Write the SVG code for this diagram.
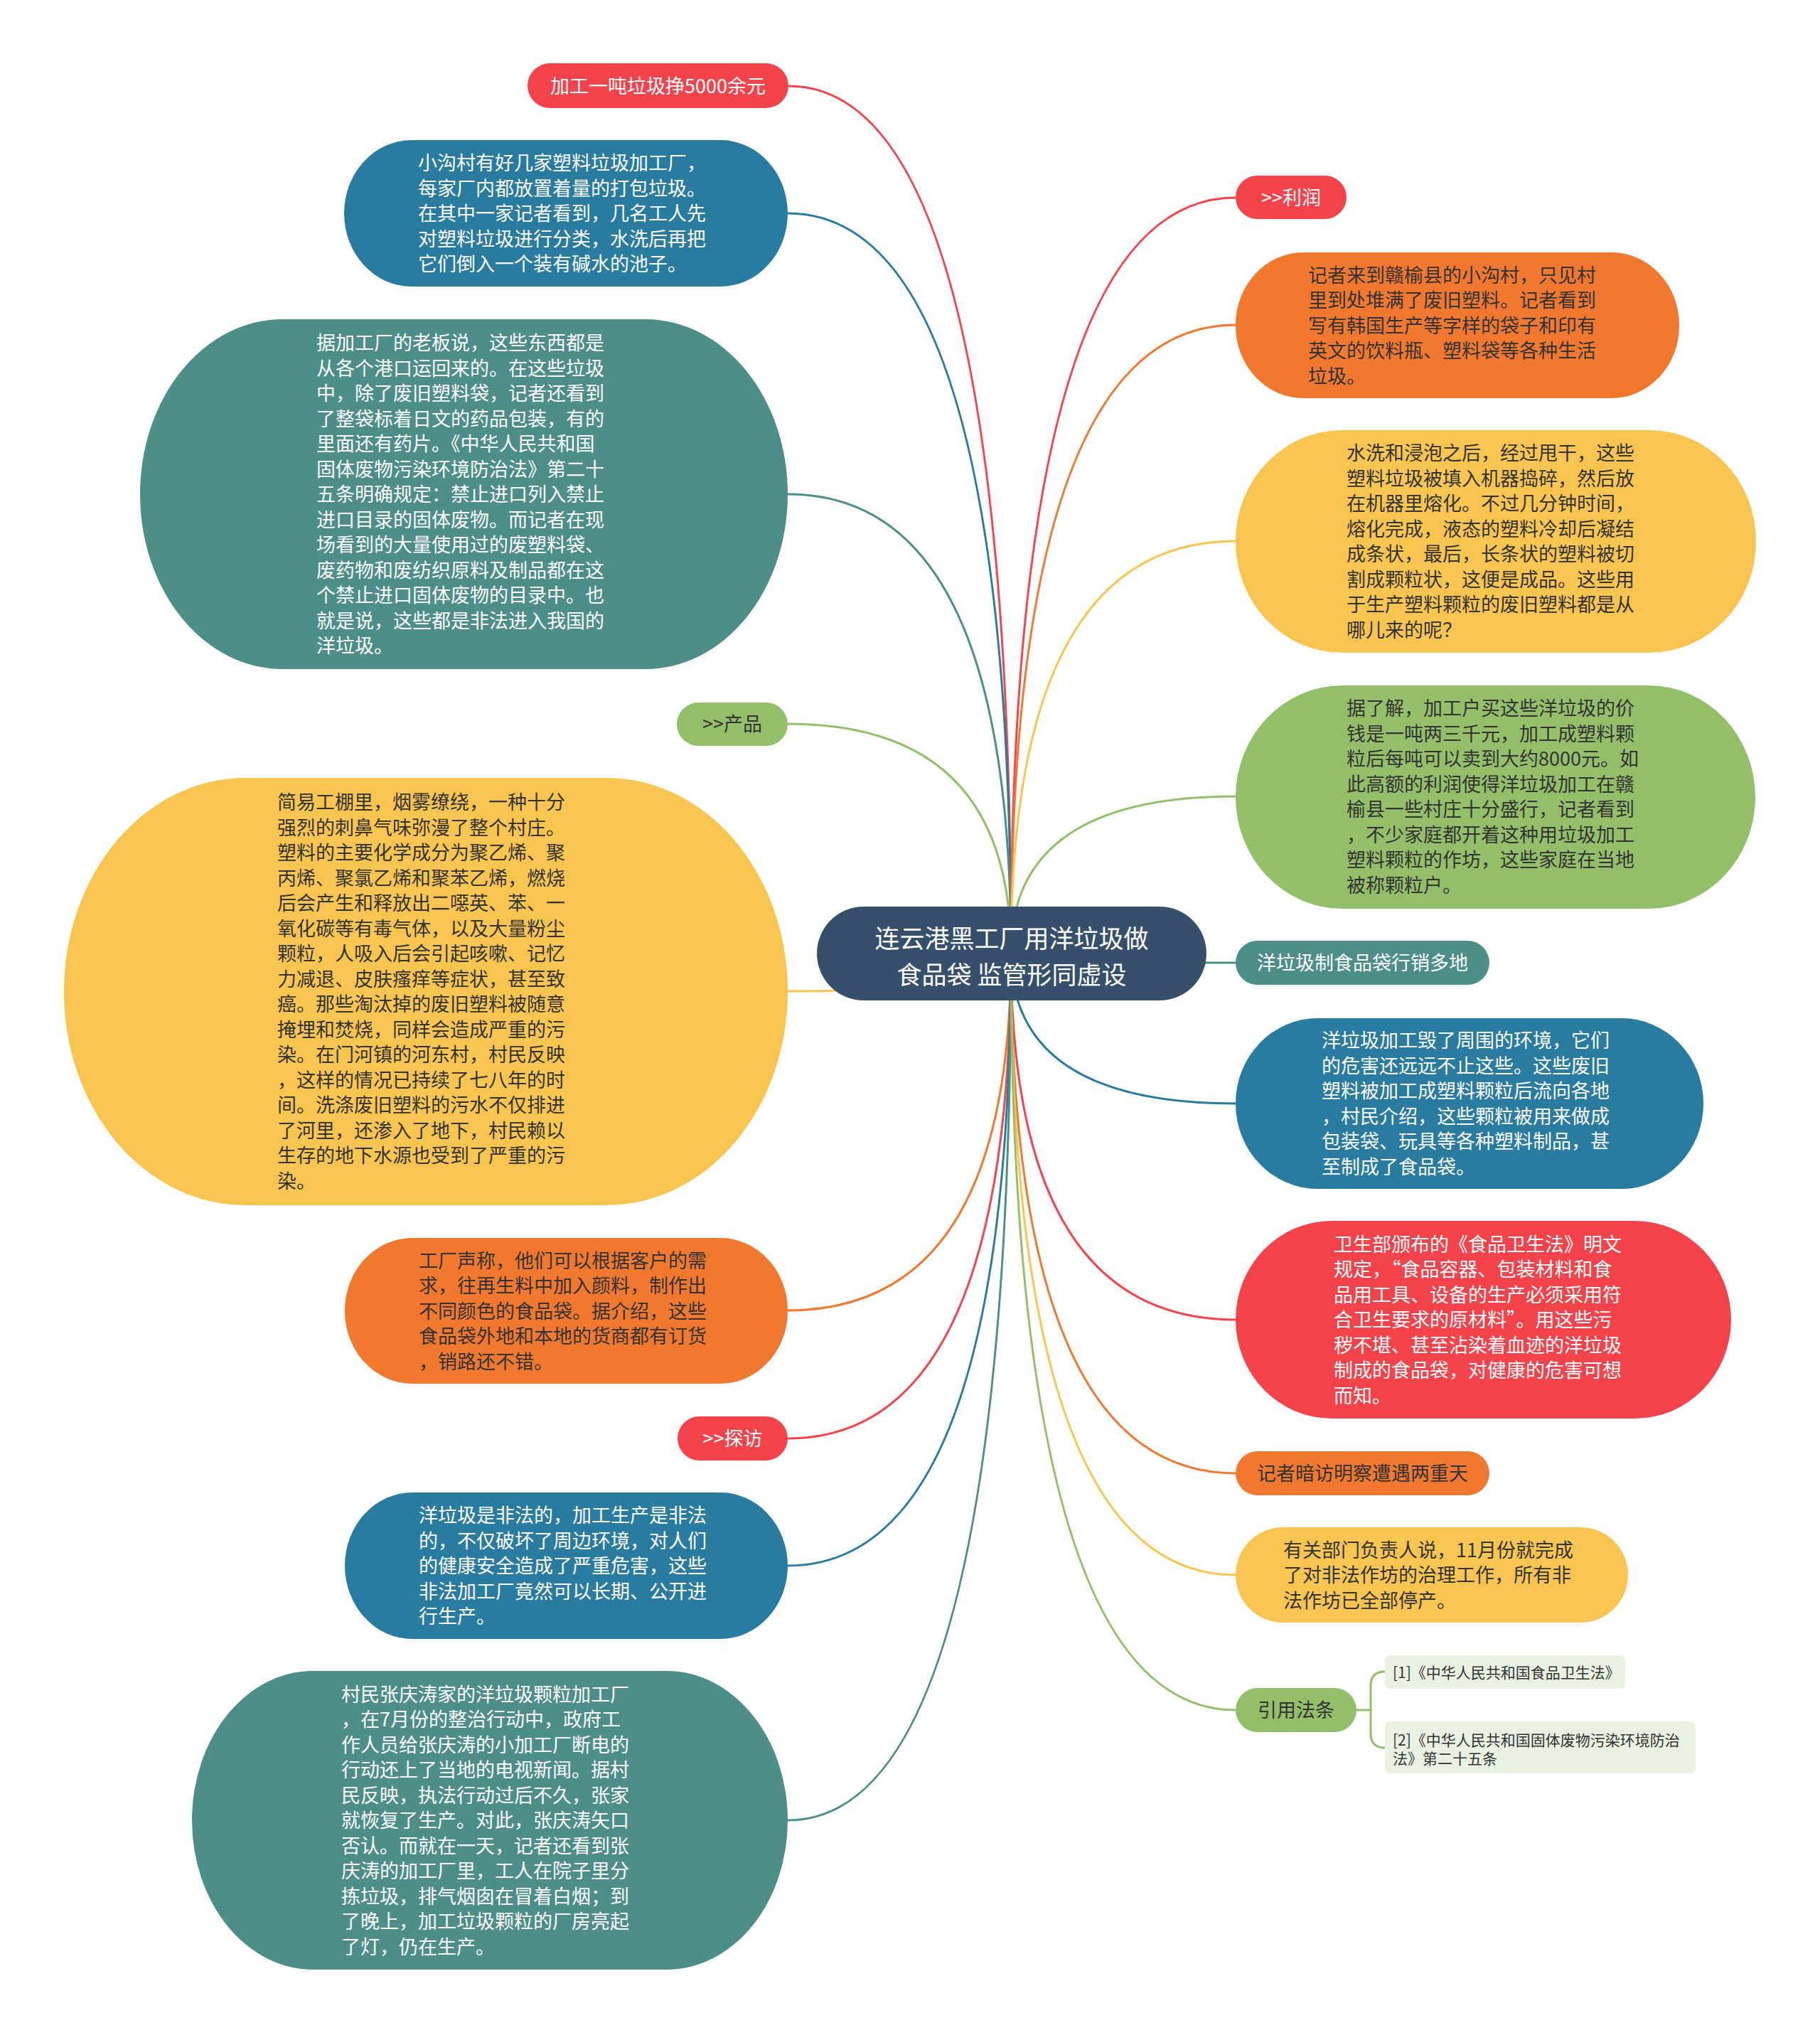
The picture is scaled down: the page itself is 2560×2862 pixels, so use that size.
<svg xmlns="http://www.w3.org/2000/svg" width="2560" height="2862" viewBox="0 0 2560 2862">
<style>
text{font-family:"Noto Sans CJK SC","Noto Sans",sans-serif;font-size:27px}
.w{fill:#ffffff}
.d{fill:#333333}
.c{text-anchor:middle}
.red{fill:#f5434b}
.blue{fill:#2a7ba0}
.teal{fill:#4d8e88}
.green{fill:#93bf6b}
.yellow{fill:#f7c550}
.orange{fill:#f0782f}
.ref{fill:#e9f1e2}
.lk{fill:none;stroke-width:3}
.sr{stroke:#f5434b}.sb{stroke:#2a7ba0}.st{stroke:#4d8e88}.sg{stroke:#93bf6b}.sy{stroke:#f7c550}.so{stroke:#f0782f}
.sm{font-size:21px}
</style>
<rect width="2560" height="2862" fill="#ffffff"/>
<g id="connectors">
<path class="lk sr" d="M1109,121 Q1422,121 1422,1340"/>
<path class="lk sb" d="M1108,300 Q1422,300 1422,1340"/>
<path class="lk st" d="M1108,695 Q1422,695 1422,1340"/>
<path class="lk sg" d="M1108,1018 Q1422,1018 1422,1340"/>
<path class="lk sy" d="M1108,1394 Q1422,1394 1422,1340"/>
<path class="lk so" d="M1108,1843 Q1422,1843 1422,1340"/>
<path class="lk sr" d="M1108,2023 Q1422,2023 1422,1340"/>
<path class="lk sb" d="M1108,2202 Q1422,2202 1422,1340"/>
<path class="lk st" d="M1108,2560 Q1422,2560 1422,1340"/>
<path class="lk sr" d="M1738,278 Q1422,278 1422,1340"/>
<path class="lk so" d="M1738,457 Q1422,457 1422,1340"/>
<path class="lk sy" d="M1738,761 Q1422,761 1422,1340"/>
<path class="lk sg" d="M1738,1120 Q1422,1120 1422,1340"/>
<path class="lk st" d="M1738,1354 Q1422,1354 1422,1340"/>
<path class="lk sb" d="M1738,1552 Q1422,1552 1422,1340"/>
<path class="lk sr" d="M1738,1856 Q1422,1856 1422,1340"/>
<path class="lk so" d="M1738,2072 Q1422,2072 1422,1340"/>
<path class="lk sy" d="M1738,2215 Q1422,2215 1422,1340"/>
<path class="lk sg" d="M1738,2405 Q1422,2405 1422,1340"/>
<path class="lk sg" d="M1908,2405 H1928 M1948,2351 Q1928,2351 1928,2371 V2438 Q1928,2458 1948,2458"/>
</g>
<g id="center">
<rect x="1149" y="1275" width="548" height="132" rx="66" ry="66" fill="#36506c"/>
<text class="w c" x="1423" y="1332.5" style="font-size:35px"><tspan x="1423">连云港黑工厂用洋垃圾做</tspan><tspan x="1423" dy="51">食品袋 监管形同虚设</tspan></text>
</g>
<g id="n-a">
<rect class="red" x="742" y="89" width="367" height="63" rx="31.5"/>
<text class="w c" x="925.5" y="131">加工一吨垃圾挣5000余元</text>
</g>
<g id="n-b">
<rect class="blue" x="484" y="197" width="624" height="206" rx="95" ry="103"/>
<text class="w" x="588" y="239"><tspan x="588">小沟村有好几家塑料垃圾加工厂，</tspan><tspan x="588" dy="35.5">每家厂内都放置着量的打包垃圾。</tspan><tspan x="588" dy="35.5">在其中一家记者看到，几名工人先</tspan><tspan x="588" dy="35.5">对塑料垃圾进行分类，水洗后再把</tspan><tspan x="588" dy="35.5">它们倒入一个装有碱水的池子。</tspan></text>
</g>
<g id="n-c">
<rect class="teal" x="197" y="449" width="911" height="492" rx="200" ry="246"/>
<text class="w" x="445" y="492"><tspan x="445">据加工厂的老板说，这些东西都是</tspan><tspan x="445" dy="35.5">从各个港口运回来的。在这些垃圾</tspan><tspan x="445" dy="35.5">中，除了废旧塑料袋，记者还看到</tspan><tspan x="445" dy="35.5">了整袋标着日文的药品包装，有的</tspan><tspan x="445" dy="35.5">里面还有药片。《中华人民共和国</tspan><tspan x="445" dy="35.5">固体废物污染环境防治法》第二十</tspan><tspan x="445" dy="35.5">五条明确规定：禁止进口列入禁止</tspan><tspan x="445" dy="35.5">进口目录的固体废物。而记者在现</tspan><tspan x="445" dy="35.5">场看到的大量使用过的废塑料袋、</tspan><tspan x="445" dy="35.5">废药物和废纺织原料及制品都在这</tspan><tspan x="445" dy="35.5">个禁止进口固体废物的目录中。也</tspan><tspan x="445" dy="35.5">就是说，这些都是非法进入我国的</tspan><tspan x="445" dy="35.5">洋垃圾。</tspan></text>
</g>
<g id="n-d">
<rect class="green" x="952" y="988" width="156" height="61" rx="30.5"/>
<text class="d c" x="1030" y="1028">&gt;&gt;产品</text>
</g>
<g id="n-e">
<rect class="yellow" x="90" y="1094" width="1018" height="601" rx="255" ry="300"/>
<text class="d" x="390" y="1138"><tspan x="390">简易工棚里，烟雾缭绕，一种十分</tspan><tspan x="390" dy="35.5">强烈的刺鼻气味弥漫了整个村庄。</tspan><tspan x="390" dy="35.5">塑料的主要化学成分为聚乙烯、聚</tspan><tspan x="390" dy="35.5">丙烯、聚氯乙烯和聚苯乙烯，燃烧</tspan><tspan x="390" dy="35.5">后会产生和释放出二噁英、苯、一</tspan><tspan x="390" dy="35.5">氧化碳等有毒气体，以及大量粉尘</tspan><tspan x="390" dy="35.5">颗粒，人吸入后会引起咳嗽、记忆</tspan><tspan x="390" dy="35.5">力减退、皮肤瘙痒等症状，甚至致</tspan><tspan x="390" dy="35.5">癌。那些淘汰掉的废旧塑料被随意</tspan><tspan x="390" dy="35.5">掩埋和焚烧，同样会造成严重的污</tspan><tspan x="390" dy="35.5">染。在门河镇的河东村，村民反映</tspan><tspan x="390" dy="35.5">，这样的情况已持续了七八年的时</tspan><tspan x="390" dy="35.5">间。洗涤废旧塑料的污水不仅排进</tspan><tspan x="390" dy="35.5">了河里，还渗入了地下，村民赖以</tspan><tspan x="390" dy="35.5">生存的地下水源也受到了严重的污</tspan><tspan x="390" dy="35.5">染。</tspan></text>
</g>
<g id="n-f">
<rect class="orange" x="485" y="1741" width="623" height="205" rx="95" ry="102"/>
<text class="d" x="589" y="1782.5"><tspan x="589">工厂声称，他们可以根据客户的需</tspan><tspan x="589" dy="35.5">求，往再生料中加入颜料，制作出</tspan><tspan x="589" dy="35.5">不同颜色的食品袋。据介绍，这些</tspan><tspan x="589" dy="35.5">食品袋外地和本地的货商都有订货</tspan><tspan x="589" dy="35.5">，销路还不错。</tspan></text>
</g>
<g id="n-g">
<rect class="red" x="953" y="1992" width="155" height="62" rx="31"/>
<text class="w c" x="1030.5" y="2033">&gt;&gt;探访</text>
</g>
<g id="n-h">
<rect class="blue" x="485" y="2099" width="623" height="206" rx="95" ry="103"/>
<text class="w" x="589" y="2141"><tspan x="589">洋垃圾是非法的，加工生产是非法</tspan><tspan x="589" dy="35.5">的，不仅破坏了周边环境，对人们</tspan><tspan x="589" dy="35.5">的健康安全造成了严重危害，这些</tspan><tspan x="589" dy="35.5">非法加工厂竟然可以长期、公开进</tspan><tspan x="589" dy="35.5">行生产。</tspan></text>
</g>
<g id="n-i">
<rect class="teal" x="270" y="2350" width="838" height="420" rx="170" ry="210"/>
<text class="w" x="480" y="2392.5"><tspan x="480">村民张庆涛家的洋垃圾颗粒加工厂</tspan><tspan x="480" dy="35.5">，在7月份的整治行动中，政府工</tspan><tspan x="480" dy="35.5">作人员给张庆涛的小加工厂断电的</tspan><tspan x="480" dy="35.5">行动还上了当地的电视新闻。据村</tspan><tspan x="480" dy="35.5">民反映，执法行动过后不久，张家</tspan><tspan x="480" dy="35.5">就恢复了生产。对此，张庆涛矢口</tspan><tspan x="480" dy="35.5">否认。而就在一天，记者还看到张</tspan><tspan x="480" dy="35.5">庆涛的加工厂里，工人在院子里分</tspan><tspan x="480" dy="35.5">拣垃圾，排气烟囱在冒着白烟；到</tspan><tspan x="480" dy="35.5">了晚上，加工垃圾颗粒的厂房亮起</tspan><tspan x="480" dy="35.5">了灯，仍在生产。</tspan></text>
</g>
<g id="n-j">
<rect class="red" x="1738" y="247" width="156" height="61" rx="30.5"/>
<text class="w c" x="1816" y="287.5">&gt;&gt;利润</text>
</g>
<g id="n-k">
<rect class="orange" x="1738" y="355" width="624" height="205" rx="95" ry="102"/>
<text class="d" x="1840" y="396.5"><tspan x="1840">记者来到赣榆县的小沟村，只见村</tspan><tspan x="1840" dy="35.5">里到处堆满了废旧塑料。记者看到</tspan><tspan x="1840" dy="35.5">写有韩国生产等字样的袋子和印有</tspan><tspan x="1840" dy="35.5">英文的饮料瓶、塑料袋等各种生活</tspan><tspan x="1840" dy="35.5">垃圾。</tspan></text>
</g>
<g id="n-l">
<rect class="yellow" x="1738" y="605" width="732" height="313" rx="150" ry="156"/>
<text class="d" x="1894" y="647"><tspan x="1894">水洗和浸泡之后，经过甩干，这些</tspan><tspan x="1894" dy="35.5">塑料垃圾被填入机器捣碎，然后放</tspan><tspan x="1894" dy="35.5">在机器里熔化。不过几分钟时间，</tspan><tspan x="1894" dy="35.5">熔化完成，液态的塑料冷却后凝结</tspan><tspan x="1894" dy="35.5">成条状，最后，长条状的塑料被切</tspan><tspan x="1894" dy="35.5">割成颗粒状，这便是成品。这些用</tspan><tspan x="1894" dy="35.5">于生产塑料颗粒的废旧塑料都是从</tspan><tspan x="1894" dy="35.5">哪儿来的呢？</tspan></text>
</g>
<g id="n-m">
<rect class="green" x="1738" y="964" width="731" height="314" rx="150" ry="157"/>
<text class="d" x="1894" y="1006"><tspan x="1894">据了解，加工户买这些洋垃圾的价</tspan><tspan x="1894" dy="35.5">钱是一吨两三千元，加工成塑料颗</tspan><tspan x="1894" dy="35.5">粒后每吨可以卖到大约8000元。如</tspan><tspan x="1894" dy="35.5">此高额的利润使得洋垃圾加工在赣</tspan><tspan x="1894" dy="35.5">榆县一些村庄十分盛行，记者看到</tspan><tspan x="1894" dy="35.5">，不少家庭都开着这种用垃圾加工</tspan><tspan x="1894" dy="35.5">塑料颗粒的作坊，这些家庭在当地</tspan><tspan x="1894" dy="35.5">被称颗粒户。</tspan></text>
</g>
<g id="n-n">
<rect class="teal" x="1738" y="1323" width="357" height="62" rx="31"/>
<text class="w c" x="1916.5" y="1364">洋垃圾制食品袋行销多地</text>
</g>
<g id="n-o">
<rect class="blue" x="1738" y="1432" width="658" height="240" rx="115" ry="120"/>
<text class="w" x="1859" y="1473"><tspan x="1859">洋垃圾加工毁了周围的环境，它们</tspan><tspan x="1859" dy="35.5">的危害还远远不止这些。这些废旧</tspan><tspan x="1859" dy="35.5">塑料被加工成塑料颗粒后流向各地</tspan><tspan x="1859" dy="35.5">，村民介绍，这些颗粒被用来做成</tspan><tspan x="1859" dy="35.5">包装袋、玩具等各种塑料制品，甚</tspan><tspan x="1859" dy="35.5">至制成了食品袋。</tspan></text>
</g>
<g id="n-p">
<rect class="red" x="1738" y="1717" width="697" height="278" rx="135" ry="139"/>
<text class="w" x="1876" y="1759.5"><tspan x="1876">卫生部颁布的《食品卫生法》明文</tspan><tspan x="1876" dy="35.5">规定，“食品容器、包装材料和食</tspan><tspan x="1876" dy="35.5">品用工具、设备的生产必须采用符</tspan><tspan x="1876" dy="35.5">合卫生要求的原材料”。用这些污</tspan><tspan x="1876" dy="35.5">秽不堪、甚至沾染着血迹的洋垃圾</tspan><tspan x="1876" dy="35.5">制成的食品袋，对健康的危害可想</tspan><tspan x="1876" dy="35.5">而知。</tspan></text>
</g>
<g id="n-q">
<rect class="orange" x="1738" y="2041" width="357" height="62" rx="31"/>
<text class="d c" x="1916.5" y="2082">记者暗访明察遭遇两重天</text>
</g>
<g id="n-r">
<rect class="yellow" x="1738" y="2148" width="552" height="134" rx="67"/>
<text class="d" x="1805" y="2189.5"><tspan x="1805">有关部门负责人说，11月份就完成</tspan><tspan x="1805" dy="35.5">了对非法作坊的治理工作，所有非</tspan><tspan x="1805" dy="35.5">法作坊已全部停产。</tspan></text>
</g>
<g id="n-s">
<rect class="green" x="1738" y="2374" width="170" height="62" rx="31"/>
<text class="d c" x="1823" y="2415">引用法条</text>
</g>
<g id="n-t">
<rect class="ref" x="1948" y="2328" width="338" height="47" rx="8"/>
<text class="d sm" x="1959" y="2360">[1]《中华人民共和国食品卫生法》</text>
</g>
<g id="n-u">
<rect class="ref" x="1948" y="2421" width="437" height="73" rx="8"/>
<text class="d sm" x="1959" y="2455"><tspan x="1959">[2]《中华人民共和国固体废物污染环境防治</tspan><tspan x="1959" dy="26">法》第二十五条</tspan></text>
</g>
</svg>
